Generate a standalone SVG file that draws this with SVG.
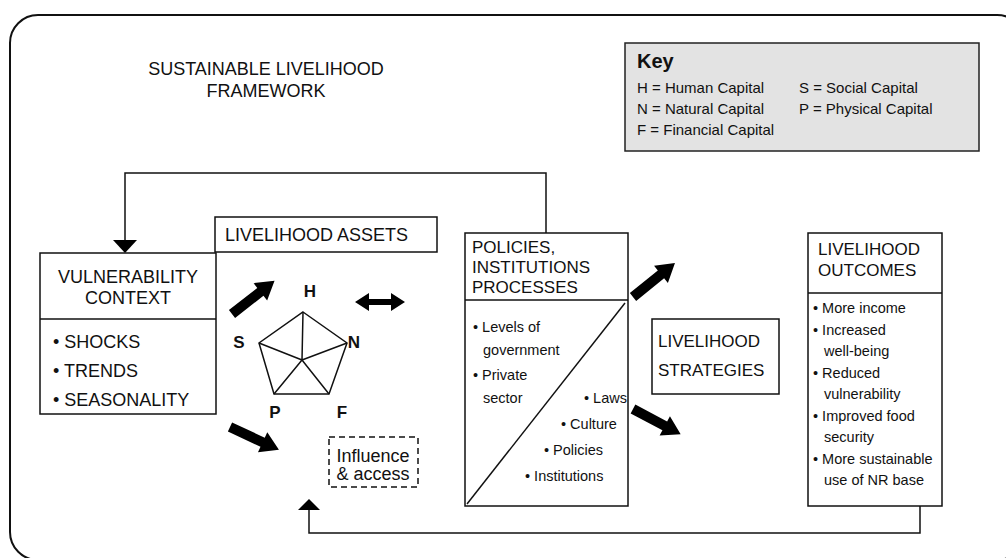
<svg xmlns="http://www.w3.org/2000/svg" xmlns:xlink="http://www.w3.org/1999/xlink" width="1006" height="558" viewBox="0 0 1006 558">
<style>
text{font-family:"Liberation Sans",Arial,sans-serif;fill:#111}
.box{fill:#fff;stroke:#111;stroke-width:1.5}
.ln{fill:none;stroke:#111;stroke-width:1.5}
.h{font-size:18px}
.hs{font-size:17px}
.b{font-size:14.5px}
.k{font-size:15px}
.lab{font-size:17px;font-weight:bold}
.fat{fill:#000}
</style>
<defs>
<path id="fat" d="M0,-5 L36,-5 L36,-11 L54,0 L36,11 L36,5 L0,5 Z"/>
</defs>
<rect x="10" y="15" width="1015" height="545" rx="28" ry="28" fill="#fff" stroke="#111" stroke-width="2"/>
<g id="title">
<text class="h" x="266" y="75" text-anchor="middle">SUSTAINABLE LIVELIHOOD</text>
<text class="h" x="266" y="97" text-anchor="middle">FRAMEWORK</text>
</g>
<g id="key">
<rect x="625" y="43" width="354" height="108" fill="#e3e3e3" stroke="#222" stroke-width="1.5"/>
<text x="637" y="68" font-size="20" font-weight="bold">Key</text>
<text class="k" x="637" y="93">H = Human Capital</text>
<text class="k" x="637" y="114">N = Natural Capital</text>
<text class="k" x="637" y="135">F = Financial Capital</text>
<text class="k" x="799" y="93">S = Social Capital</text>
<text class="k" x="799" y="114">P = Physical Capital</text>
</g>
<g id="connectors">
<polyline class="ln" points="546,233 546,173 125,173 125,241"/>
<polygon points="113,240 137,240 125,253" fill="#000"/>
<polyline class="ln" points="920,506 920,533 309,533 309,509"/>
<polygon points="298,510 320,510 309,499" fill="#000"/>
<use xlink:href="#fat" class="fat" transform="translate(232,314) rotate(-38)"/>
<use xlink:href="#fat" class="fat" transform="translate(230,427) rotate(25)"/>
<use xlink:href="#fat" class="fat" transform="translate(633,297) rotate(-39)"/>
<use xlink:href="#fat" class="fat" transform="translate(633,409) rotate(28)"/>
<polygon points="355,302 369,293 369,299 391,299 391,293 405,302 391,311 391,305 369,305 369,311" fill="#000"/>
</g>
<g id="vulnerability">
<rect class="box" x="40" y="253" width="176" height="161"/>
<line class="ln" x1="40" y1="319" x2="216" y2="319"/>
<text class="h" x="128" y="283" text-anchor="middle">VULNERABILITY</text>
<text class="h" x="128" y="304" text-anchor="middle">CONTEXT</text>
<text class="h" x="53" y="348">• SHOCKS</text>
<text class="h" x="53" y="377">• TRENDS</text>
<text class="h" x="53" y="406">• SEASONALITY</text>
</g>
<g id="assets">
<rect class="box" x="215" y="217" width="222" height="35"/>
<text class="h" x="225" y="241">LIVELIHOOD ASSETS</text>
</g>
<g id="pentagon">
<polygon class="ln" points="303,312 347,343 329,394 274,394 259,343"/>
<path class="ln" d="M302,360 L303,312 M302,360 L347,343 M302,360 L329,394 M302,360 L274,394 M302,360 L259,343"/>
<text class="lab" x="310" y="297" text-anchor="middle">H</text>
<text class="lab" x="354" y="348" text-anchor="middle">N</text>
<text class="lab" x="342" y="418" text-anchor="middle">F</text>
<text class="lab" x="275" y="418" text-anchor="middle">P</text>
<text class="lab" x="239" y="348" text-anchor="middle">S</text>
</g>
<g id="influence">
<rect x="329" y="437" width="89" height="50" fill="none" stroke="#111" stroke-width="1.5" stroke-dasharray="6,4"/>
<text x="373" y="462" font-size="18" text-anchor="middle">Influence</text>
<text x="373" y="480" font-size="18" text-anchor="middle">&amp; access</text>
</g>
<g id="policies">
<rect class="box" x="465" y="233" width="163" height="273"/>
<line class="ln" x1="465" y1="300" x2="628" y2="300"/>
<line class="ln" x1="625" y1="303" x2="467" y2="504"/>
<text class="hs" x="472" y="253">POLICIES,</text>
<text class="hs" x="472" y="273">INSTITUTIONS</text>
<text class="hs" x="472" y="293">PROCESSES</text>
<text class="b" x="473" y="332">• Levels of</text>
<text class="b" x="483" y="355">government</text>
<text class="b" x="473" y="380">• Private</text>
<text class="b" x="483" y="403">sector</text>
<text class="b" x="584" y="403">• Laws</text>
<text class="b" x="561" y="429">• Culture</text>
<text class="b" x="544" y="455">• Policies</text>
<text class="b" x="525" y="481">• Institutions</text>
</g>
<g id="strategies">
<rect class="box" x="652" y="319" width="127" height="75"/>
<text class="hs" x="658" y="347">LIVELIHOOD</text>
<text class="hs" x="658" y="376">STRATEGIES</text>
</g>
<g id="outcomes">
<rect class="box" x="808" y="233" width="134" height="273"/>
<line class="ln" x1="808" y1="293" x2="942" y2="293"/>
<text class="hs" x="818" y="255">LIVELIHOOD</text>
<text class="hs" x="818" y="276">OUTCOMES</text>
<text class="b" x="813" y="313">• More income</text>
<text class="b" x="813" y="334.5">• Increased</text>
<text class="b" x="824" y="356">well-being</text>
<text class="b" x="813" y="377.5">• Reduced</text>
<text class="b" x="824" y="399">vulnerability</text>
<text class="b" x="813" y="420.5">• Improved food</text>
<text class="b" x="824" y="442">security</text>
<text class="b" x="813" y="463.5">• More sustainable</text>
<text class="b" x="824" y="485">use of NR base</text>
</g>
</svg>
